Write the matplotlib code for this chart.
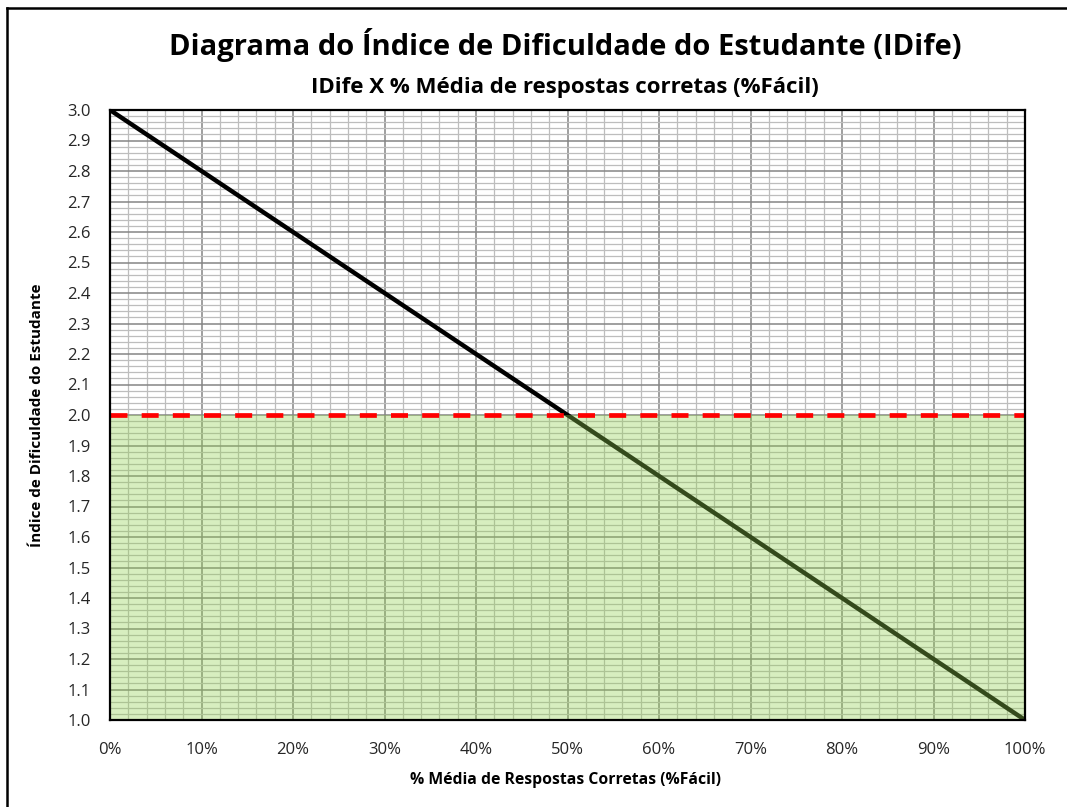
import matplotlib
matplotlib.use("Agg")
import matplotlib.pyplot as plt
from matplotlib.ticker import MultipleLocator, FuncFormatter
from matplotlib.lines import Line2D

# Data
pct_correct = [0, 50, 100]          # % média de respostas corretas
idife = [3.0, 2.0, 1.0]             # índice de dificuldade
threshold = 2.0
x_ticks = list(range(0, 101, 10))
y_ticks = [round(1.0 + 0.1 * i, 1) for i in range(21)]

title = "Diagrama do Índice de Dificuldade do Estudante (IDife)"
subtitle = "IDife X % Média de respostas corretas (%Fácil)"
xlabel = "% Média de Respostas Corretas (%Fácil)"
ylabel = "Índice de Dificuldade do Estudante"

plt.rcParams['font.family'] = ['Open Sans', 'DejaVu Sans']

fig = plt.figure(figsize=(10.67, 8.07), dpi=100)
ax = fig.add_axes([110 / 1067, 87 / 807, 915 / 1067, 610 / 807])

ax.set_xlim(0, 100)
ax.set_ylim(1.0, 3.0)

# grid
ax.xaxis.set_major_locator(MultipleLocator(10))
ax.xaxis.set_minor_locator(MultipleLocator(2))
ax.yaxis.set_major_locator(MultipleLocator(0.1))
ax.yaxis.set_minor_locator(MultipleLocator(0.02))
ax.grid(which='major', color='#858585', linewidth=1.1, zorder=0)
ax.grid(which='minor', color='#bdbdbd', linewidth=0.9, zorder=0)
ax.set_axisbelow(True)

ax.set_xticks(x_ticks)
ax.set_yticks(y_ticks)
ax.xaxis.set_major_formatter(FuncFormatter(lambda v, p: f"{int(round(v))}%"))
ax.yaxis.set_major_formatter(FuncFormatter(lambda v, p: f"{v:.1f}"))
ax.tick_params(which='both', length=0)
ax.tick_params(axis='x', pad=16, labelsize=12, labelcolor='#262626')
ax.tick_params(axis='y', pad=14, labelsize=12, labelcolor='#262626')

# IDife line
ax.plot(pct_correct, idife, color='black', linewidth=3.2, zorder=3,
        solid_capstyle='butt')

# green zone below threshold
ax.fill_between([0, 100], [1.0, 1.0], [threshold, threshold],
                color='#92D050', alpha=0.36, linewidth=0, zorder=4)

# threshold line
ax.axhline(threshold, color='#ff0000', linewidth=3.4, linestyle=(0, (3.6, 3.0)),
           zorder=5)

for s in ax.spines.values():
    s.set_color('black')
    s.set_linewidth(1.6)
    s.set_zorder(6)

fig.text(565 / 1067, 1 - 45 / 807, title, ha='center', va='center',
         fontsize=21, fontweight='bold')
fig.text(565 / 1067, 1 - 88 / 807, subtitle, ha='center', va='center',
         fontsize=16, fontweight='bold')
fig.text(565 / 1067, 1 - 780 / 807, xlabel, ha='center', va='center',
         fontsize=11.3, fontweight='bold')
fig.text(37 / 1067, 1 - 415 / 807, ylabel, ha='center', va='center',
         rotation=90, fontsize=11, fontweight='bold')

# outer frame (left and top edges)
fig.add_artist(Line2D([7 / 1067, 7 / 1067], [0, 1 - 8 / 807],
                      transform=fig.transFigure, color='black', linewidth=1.8))
fig.add_artist(Line2D([7 / 1067, 1], [1 - 8 / 807, 1 - 8 / 807],
                      transform=fig.transFigure, color='black', linewidth=1.8))

fig.savefig("out.png", dpi=100, facecolor='white')
